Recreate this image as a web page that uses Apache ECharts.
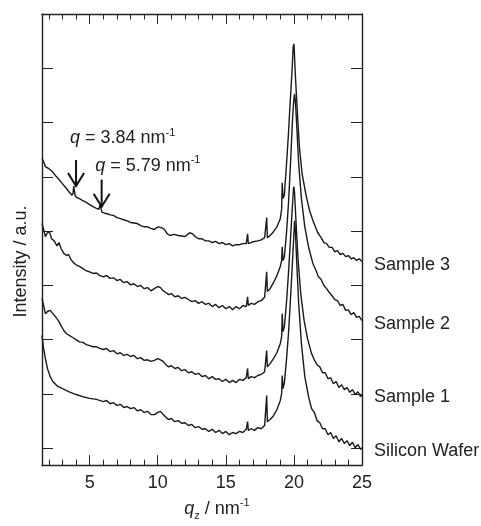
<!DOCTYPE html>
<html>
<head>
<meta charset="utf-8">
<script src="https://cdn.jsdelivr.net/npm/echarts@6/dist/echarts.min.js"></script>
<style>
html,body{margin:0;padding:0;background:#fff;}
#chart{width:481px;height:526px;}
</style>
</head>
<body>
<div id="chart"></div>
<script>
// q_z (nm^-1), intensity (a.u., offset traces)
const seriesNames = ['Sample 3', 'Sample 2', 'Sample 1', 'Silicon Wafer'];
const majorTicksX = [5, 10, 15, 20, 25];
const minorTicksX = [2, 3, 4, 6, 7, 8, 9, 11, 12, 13, 14, 16, 17, 18, 19, 21, 22, 23, 24];
const ticksY = [0, 1, 2, 3, 4, 5, 6, 7];

const sample3 = [
[1.5,5.34],[1.65,5.26],[1.75,5.19],[1.85,5.22],[2.0,5.15],[2.25,5.10],[2.5,5.02],[2.75,4.95],
[3.0,4.875],[3.25,4.80],[3.5,4.72],[3.7,4.66],[3.78,4.70],[3.83,4.83],[3.88,4.81],[3.93,4.66],
[4.05,4.62],[4.25,4.60],[4.5,4.56],[4.75,4.53],[5.0,4.49],[5.25,4.45],[5.5,4.42],[5.68,4.40],
[5.76,4.49],[5.83,4.48],[5.9,4.35],[6.1,4.33],[6.3,4.32],[6.5,4.30],[6.75,4.29],[7.0,4.25],[7.25,4.23],
[7.5,4.21],[7.75,4.19],[8.0,4.16],[8.25,4.15],[8.5,4.14],[8.75,4.10],[9.0,4.08],[9.25,4.08],
[9.5,4.05],[9.75,4.03],[9.9,4.06],[10.05,4.08],[10.3,4.06],[10.5,4.03],[10.7,3.95],[10.9,3.92],
[11.2,3.94],[11.5,3.92],[11.75,3.91],[12.0,3.90],[12.2,3.94],[12.35,3.97],[12.55,3.95],[12.75,3.90],
[13.0,3.86],[13.25,3.86],[13.5,3.82],[13.75,3.82],[14.0,3.79],[14.25,3.81],[14.5,3.77],[14.75,3.79],
[15.0,3.75],[15.25,3.77],[15.5,3.73],[15.75,3.75],[16.0,3.75],[16.25,3.77],[16.5,3.77],[16.6,3.95],
[16.65,3.77],[16.85,3.79],[17.1,3.81],[17.35,3.82],[17.6,3.84],[17.85,3.88],[17.97,3.86],[18.0,4.25],
[18.05,3.88],[18.25,3.92],[18.5,3.99],[18.75,4.08],[19.0,4.23],[19.1,4.41],[19.14,4.89],[19.2,4.60],
[19.3,4.67],[19.45,5.21],[19.6,5.80],[19.7,6.26],[19.85,6.90],[19.95,7.40],[20.0,7.45],[20.03,7.32],
[20.1,6.90],[20.2,6.44],[20.3,5.98],[20.4,5.56],[20.6,5.06],[20.9,4.65],[21.15,4.38],[21.4,4.19],
[21.75,3.97],[22.0,3.88],[22.2,3.79],[22.4,3.77],[22.6,3.70],[22.8,3.70],[23.0,3.62],[23.2,3.64],
[23.4,3.57],[23.6,3.59],[23.8,3.53],[24.0,3.55],[24.2,3.49],[24.4,3.51],[24.6,3.46],[24.8,3.49],[25.0,3.44]
];

const sample2 = [
[1.5,4.14],[1.6,4.05],[1.75,3.90],[1.9,3.97],[2.05,3.99],[2.2,3.86],[2.4,3.82],[2.6,3.73],
[2.75,3.79],[2.9,3.68],[3.1,3.59],[3.3,3.55],[3.45,3.57],[3.6,3.49],[3.8,3.42],[4.0,3.38],
[4.25,3.35],[4.5,3.31],[4.75,3.27],[5.0,3.25],[5.25,3.22],[5.5,3.23],[5.75,3.18],[6.0,3.16],
[6.25,3.18],[6.5,3.13],[6.75,3.14],[7.0,3.09],[7.25,3.11],[7.5,3.05],[7.75,3.07],[8.0,3.01],
[8.25,3.03],[8.5,2.98],[8.75,3.00],[9.0,2.94],[9.25,2.96],[9.5,2.90],[9.75,2.94],[10.0,2.98],
[10.2,2.96],[10.4,2.90],[10.6,2.87],[10.8,2.83],[11.0,2.85],[11.25,2.79],[11.5,2.81],[11.75,2.76],
[12.0,2.78],[12.25,2.74],[12.5,2.70],[12.75,2.72],[13.0,2.67],[13.25,2.70],[13.5,2.65],[13.75,2.67],
[14.0,2.61],[14.25,2.65],[14.5,2.59],[14.75,2.63],[15.0,2.57],[15.25,2.61],[15.5,2.55],[15.75,2.61],
[16.0,2.57],[16.25,2.63],[16.5,2.61],[16.6,2.79],[16.65,2.63],[16.85,2.67],[17.1,2.65],[17.35,2.70],
[17.6,2.72],[17.85,2.78],[17.97,2.79],[18.0,3.25],[18.05,2.89],[18.25,2.94],[18.5,3.05],[18.75,3.18],
[19.0,3.35],[19.1,3.46],[19.14,3.71],[19.2,3.46],[19.3,3.53],[19.45,3.95],[19.6,4.51],[19.75,5.24],
[19.9,6.07],[20.0,6.44],[20.05,6.53],[20.12,6.35],[20.2,5.98],[20.35,5.24],[20.55,4.60],[20.8,4.08],
[21.1,3.68],[21.4,3.40],[21.6,3.29],[21.8,3.16],[22.0,3.11],[22.2,3.00],[22.4,2.94],[22.6,2.87],
[22.8,2.81],[23.0,2.74],[23.2,2.72],[23.4,2.63],[23.6,2.65],[23.8,2.54],[24.0,2.55],[24.2,2.46],
[24.4,2.50],[24.6,2.41],[24.8,2.43],[25.0,2.35]
];

const sample1 = [
[1.5,2.76],[1.6,2.65],[1.75,2.48],[1.9,2.52],[2.1,2.54],[2.3,2.48],[2.5,2.42],[2.7,2.35],
[2.9,2.26],[3.1,2.17],[3.3,2.11],[3.5,2.08],[3.75,2.04],[4.0,2.00],[4.25,1.96],[4.5,1.95],
[4.75,1.91],[5.0,1.89],[5.25,1.87],[5.5,1.87],[5.75,1.84],[6.0,1.82],[6.25,1.84],[6.5,1.78],
[6.75,1.80],[7.0,1.74],[7.25,1.76],[7.5,1.71],[7.75,1.73],[8.0,1.69],[8.25,1.71],[8.5,1.65],
[8.75,1.67],[9.0,1.62],[9.25,1.63],[9.5,1.60],[9.75,1.62],[10.0,1.65],[10.2,1.63],[10.4,1.60],
[10.6,1.54],[10.8,1.50],[11.0,1.52],[11.25,1.47],[11.5,1.49],[11.75,1.43],[12.0,1.45],[12.25,1.39],
[12.5,1.41],[12.75,1.36],[13.0,1.38],[13.25,1.32],[13.5,1.34],[13.75,1.28],[14.0,1.32],[14.25,1.27],
[14.5,1.28],[14.75,1.23],[15.0,1.27],[15.25,1.21],[15.5,1.25],[15.75,1.21],[16.0,1.27],[16.25,1.25],
[16.5,1.30],[16.6,1.47],[16.65,1.28],[16.85,1.32],[17.1,1.30],[17.35,1.34],[17.6,1.36],[17.85,1.41],
[17.97,1.41],[18.0,1.80],[18.05,1.50],[18.25,1.56],[18.5,1.65],[18.75,1.76],[19.0,1.93],[19.1,2.06],
[19.14,2.48],[19.2,2.15],[19.3,2.24],[19.45,2.67],[19.6,3.22],[19.75,3.86],[19.9,4.51],[19.97,4.78],
[20.0,4.82],[20.05,4.69],[20.15,4.19],[20.3,3.49],[20.5,2.85],[20.75,2.35],[21.0,2.02],[21.3,1.74],
[21.5,1.63],[21.7,1.54],[21.9,1.50],[22.1,1.39],[22.3,1.39],[22.5,1.28],[22.7,1.30],[22.9,1.19],
[23.1,1.23],[23.3,1.12],[23.5,1.17],[23.7,1.08],[23.9,1.12],[24.1,1.03],[24.3,1.08],[24.5,0.99],
[24.7,1.04],[24.9,0.95],[25.0,0.99]
];

const siliconWafer = [
[1.5,2.08],[1.6,1.87],[1.75,1.65],[1.9,1.47],[2.1,1.32],[2.3,1.23],[2.6,1.15],[3.0,1.10],
[3.5,1.04],[4.0,0.99],[4.5,0.95],[5.0,0.92],[5.5,0.90],[6.0,0.86],[6.25,0.88],[6.5,0.82],
[6.75,0.84],[7.0,0.79],[7.25,0.81],[7.5,0.75],[7.75,0.77],[8.0,0.73],[8.25,0.75],[8.5,0.69],
[8.75,0.71],[9.0,0.66],[9.25,0.68],[9.5,0.62],[9.75,0.62],[10.0,0.66],[10.2,0.68],[10.4,0.62],
[10.6,0.57],[10.8,0.53],[11.0,0.55],[11.25,0.49],[11.5,0.51],[11.75,0.46],[12.0,0.47],[12.25,0.42],
[12.5,0.44],[12.75,0.38],[13.0,0.40],[13.25,0.35],[13.5,0.36],[13.75,0.31],[14.0,0.35],[14.25,0.29],
[14.5,0.33],[14.75,0.27],[15.0,0.31],[15.25,0.25],[15.5,0.29],[15.75,0.27],[16.0,0.31],[16.25,0.29],
[16.5,0.35],[16.6,0.49],[16.65,0.33],[16.85,0.36],[17.1,0.33],[17.35,0.38],[17.6,0.36],[17.85,0.42],
[17.97,0.40],[18.0,0.97],[18.05,0.49],[18.25,0.53],[18.5,0.60],[18.75,0.71],[19.0,0.88],[19.1,1.01],
[19.14,1.34],[19.2,1.10],[19.3,1.21],[19.45,1.62],[19.6,2.11],[19.75,2.76],[19.9,3.46],[20.0,3.95],
[20.05,4.19],[20.1,4.05],[20.2,3.46],[20.35,2.67],[20.55,1.93],[20.8,1.32],[21.1,0.92],[21.3,0.73],
[21.5,0.66],[21.7,0.51],[21.9,0.47],[22.1,0.36],[22.3,0.36],[22.5,0.25],[22.7,0.29],[22.9,0.18],
[23.1,0.23],[23.3,0.12],[23.5,0.18],[23.7,0.09],[23.9,0.14],[24.1,0.05],[24.3,0.11],[24.5,0.01],
[24.7,0.07],[24.9,-0.02],[25.0,0.01]
];

// annotation arrows: q position, shaft top, tip (data units)
const arrowQ = [4.0, 5.88];
const arrowTop = [5.31, 4.95];
const arrowTip = [4.83, 4.45];
const arrowText = ['3.84', '5.79'];

const FONT = '"Liberation Sans", Arial, Helvetica, sans-serif';
const INK = '#222';
const chart = echarts.init(document.getElementById('chart'), null, {renderer: 'canvas'});

function xAx(pos, ticks, len, showLine, showLabels) {
  return {
    type: 'value', min: 1.5, max: 25, position: pos, gridIndex: 0,
    axisLine: {show: showLine, onZero: false, lineStyle: {color: INK, width: 1.4}},
    axisTick: {show: true, inside: true, length: len, customValues: ticks, lineStyle: {color: INK, width: 1}},
    axisLabel: {show: showLabels, customValues: majorTicksX, margin: 9, fontSize: 18, fontFamily: FONT, color: INK},
    splitLine: {show: false}
  };
}
function yAx(pos) {
  return {
    type: 'value', min: -0.31, max: 8, position: pos, gridIndex: 0,
    axisLine: {show: true, onZero: false, lineStyle: {color: INK, width: 1.4}},
    axisTick: {show: true, inside: true, length: 11, customValues: ticksY, lineStyle: {color: INK, width: 1}},
    axisLabel: {show: false},
    splitLine: {show: false}
  };
}

const xMain = xAx('bottom', majorTicksX, 10, true, true);
xMain.name = '{i|q}{sub|z} / nm{sup|-1}';
xMain.nameLocation = 'middle';
xMain.nameGap = 31;
xMain.nameTextStyle = {
  fontSize: 18, fontFamily: FONT, color: INK, padding: [0, 0, 0, 30],
  rich: {
    i: {fontStyle: 'italic', fontSize: 18, fontFamily: FONT, color: INK, lineHeight: 24},
    sub: {fontSize: 11, fontFamily: FONT, color: INK, verticalAlign: 'bottom', lineHeight: 11},
    sup: {fontSize: 11, fontFamily: FONT, color: INK, verticalAlign: 'top', lineHeight: 11}
  }
};
const yMain = yAx('left');
yMain.name = 'Intensity / a.u.';
yMain.nameLocation = 'middle';
yMain.nameGap = 12;
yMain.nameTextStyle = {fontSize: 18, fontFamily: FONT, color: INK, padding: [0, 44, 0, 0]};

const data = [sample3, sample2, sample1, siliconWafer];

chart.setOption({
  animation: false,
  backgroundColor: '#fff',
  grid: {left: 42, right: 119, top: 14, bottom: 59, containLabel: false},
  xAxis: [
    xMain,
    xAx('bottom', minorTicksX, 5.5, false, false),
    xAx('top', majorTicksX, 10, true, false),
    xAx('top', minorTicksX, 5.5, false, false)
  ],
  yAxis: [yMain, yAx('right')],
  series: data.map((d, i) => ({
    name: seriesNames[i],
    type: 'line',
    xAxisIndex: 0, yAxisIndex: 0,
    data: d,
    showSymbol: false,
    symbol: 'none',
    clip: false,
    lineStyle: {color: '#1a1a1a', width: 1.4},
    endLabel: {show: true, formatter: '{a}', distance: 12, offset: [0, 3], fontSize: 18, fontFamily: FONT, color: INK}
  }))
});

// annotations positioned through the chart's own scales
const graphics = [];
arrowQ.forEach((q, i) => {
  const top = chart.convertToPixel({xAxisIndex: 0, yAxisIndex: 0}, [q, arrowTop[i]]);
  const tip = chart.convertToPixel({xAxisIndex: 0, yAxisIndex: 0}, [q, arrowTip[i]]);
  graphics.push({type: 'polyline', shape: {points: [top, tip]}, style: {stroke: '#111', lineWidth: 2, fill: null}, z: 100});
  graphics.push({type: 'polyline', shape: {points: [[tip[0] - 8, tip[1] - 13], tip, [tip[0] + 8, tip[1] - 13]]}, style: {stroke: '#111', lineWidth: 2, fill: null}, z: 100});
  const lx = i === 0 ? top[0] - 6 : top[0] - 6.5;
  const ly = i === 0 ? top[1] - 22 : top[1] - 14;
  graphics.push({
    type: 'text', x: lx, y: ly, z: 100,
    style: {
      text: '{i|q} = ' + arrowText[i] + ' nm{sup|-1}',
      font: '18px ' + FONT, fill: INK, verticalAlign: 'middle', align: 'left',
      rich: {
        i: {fontStyle: 'italic', fontSize: 18, fontFamily: FONT, fill: INK, lineHeight: 22},
        sup: {fontSize: 11, fontFamily: FONT, fill: INK, verticalAlign: 'top', lineHeight: 11}
      }
    }
  });
});
chart.setOption({graphic: graphics});
</script>
</body>
</html>
